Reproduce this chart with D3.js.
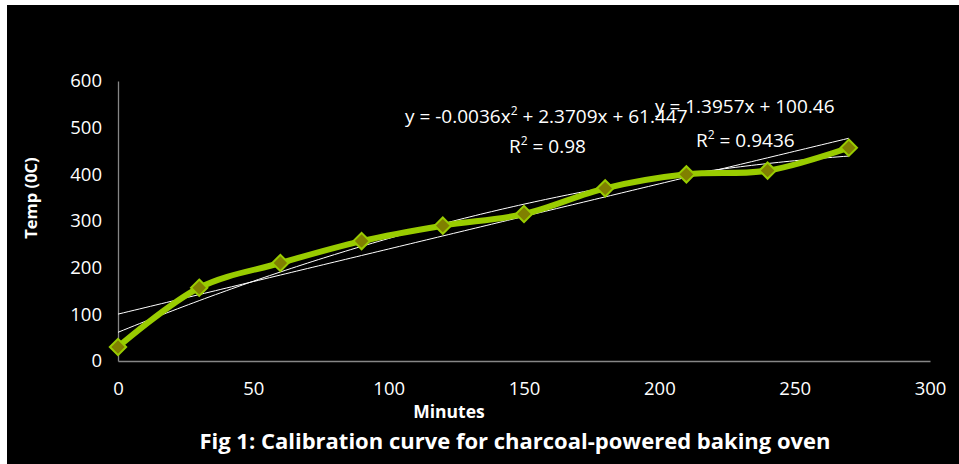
<!DOCTYPE html>
<html>
<head>
<meta charset="utf-8">
<script src="https://cdn.jsdelivr.net/npm/d3@7"></script>
<style>
  body { margin: 0; background: #ffffff; }
  svg { display: block; font-family: "Open Sans", "Noto Sans", sans-serif; }
</style>
</head>
<body>
<div id="chart"></div>
<script>
// data
var minutes = [0, 30, 60, 90, 120, 150, 180, 210, 240, 270];
var temps = [30, 157, 210, 257, 290, 315, 370, 400, 408, 457];
var xTicks = [0, 50, 100, 150, 200, 250, 300];
var yTicks = [0, 100, 200, 300, 400, 500, 600];
var linFit = [1.3957, 100.46];          // slope, intercept
var polyFit = [-0.0036, 2.3709, 61.447]; // a, b, c

var W = 959, H = 464;
var svg = d3.select('#chart').append('svg')
    .attr('width', W)
    .attr('height', H);

// black chart area with the white strip top/left
svg.append('rect')
    .attr('x', 7).attr('y', 5)
    .attr('width', W - 7).attr('height', H - 5)
    .attr('fill', '#000');

var x = d3.scaleLinear().domain([0, 300]).range([118, 930]);
var y = d3.scaleLinear().domain([0, 600]).range([361, 81]);

// Axes
var xAxis = svg.append('g')
    .attr('transform', 'translate(0,' + y(0) + ')')
    .call(d3.axisBottom(x).tickValues(xTicks).tickSize(0).tickPadding(24));
var yAxis = svg.append('g')
    .attr('transform', 'translate(' + x(0) + ',0)')
    .call(d3.axisLeft(y).tickValues(yTicks).tickSize(0).tickPadding(16));

[xAxis, yAxis].forEach(function (a) {
    a.select('.domain').attr('stroke', '#868686').attr('stroke-width', 1.3);
    a.selectAll('text')
        .attr('fill', '#fff')
        .style('font-size', '18.5px')
        .style('font-family', '"Open Sans", sans-serif');
});
xAxis.selectAll('text').attr('dy', '0.55em');

// trendlines
var trend = d3.range(0, 271, 2);
var line = d3.line()
    .x(function (d) { return x(d[0]); })
    .y(function (d) { return y(d[1]); });

svg.append('path')
    .datum(trend.map(function (t) { return [t, linFit[0] * t + linFit[1]]; }))
    .attr('d', line)
    .attr('fill', 'none')
    .attr('stroke', '#fff')
    .attr('stroke-width', 1);

svg.append('path')
    .datum(trend.map(function (t) { return [t, polyFit[0] * t * t + polyFit[1] * t + polyFit[2]]; }))
    .attr('d', line)
    .attr('fill', 'none')
    .attr('stroke', '#fff')
    .attr('stroke-width', 1);

// data series
var pts = minutes.map(function (m, i) { return [m, temps[i]]; });
svg.append('path')
    .datum(pts)
    .attr('d', line.curve(d3.curveCatmullRom.alpha(0.5)))
    .attr('fill', 'none')
    .attr('stroke', '#99cc00')
    .attr('stroke-width', 6)
    .attr('stroke-linejoin', 'round');

svg.selectAll('.marker')
    .data(pts)
    .enter()
    .append('path')
    .attr('class', 'marker')
    .attr('d', d3.symbol().type(d3.symbolDiamond2).size(170))
    .attr('transform', function (d) { return 'translate(' + x(d[0]) + ',' + y(d[1]) + ')'; })
    .attr('fill', '#808000')
    .attr('stroke', '#99cc00')
    .attr('stroke-width', 2);

// equation labels
function eq(tx, ty, parts) {
    var t = svg.append('text')
        .attr('x', tx).attr('y', ty)
        .attr('fill', '#fff')
        .style('font-size', '19px');
    parts.forEach(function (p) {
        var s = t.append('tspan').text(p[0]);
        if (p[1]) s.attr('dy', -8).style('font-size', '12px');
        if (p[2]) s.attr('dy', 8);
    });
}
eq(405, 123, [['y = -0.0036x'], ['2', true], [' + 2.3709x + 61.447', false, true]]);
eq(509, 153, [['R'], ['2', true], [' = 0.98', false, true]]);
eq(655, 113, [['y = 1.3957x + 100.46']]);
eq(696, 147, [['R'], ['2', true], [' = 0.9436', false, true]]);

// axis titles
svg.append('text')
    .attr('text-anchor', 'middle')
    .attr('transform', 'translate(37,198) rotate(-90)')
    .attr('fill', '#fff')
    .style('font-size', '16.5px')
    .style('font-weight', 'bold')
    .text('Temp (0C)');

svg.append('text')
    .attr('text-anchor', 'middle')
    .attr('x', 449).attr('y', 418)
    .attr('fill', '#fff')
    .style('font-size', '17.5px')
    .style('font-weight', 'bold')
    .text('Minutes');

svg.append('text')
    .attr('text-anchor', 'middle')
    .attr('x', 515).attr('y', 449)
    .attr('fill', '#fff')
    .style('font-size', '22px')
    .style('font-weight', 'bold')
    .text('Fig 1: Calibration curve for charcoal-powered baking oven');
</script>
</body>
</html>
